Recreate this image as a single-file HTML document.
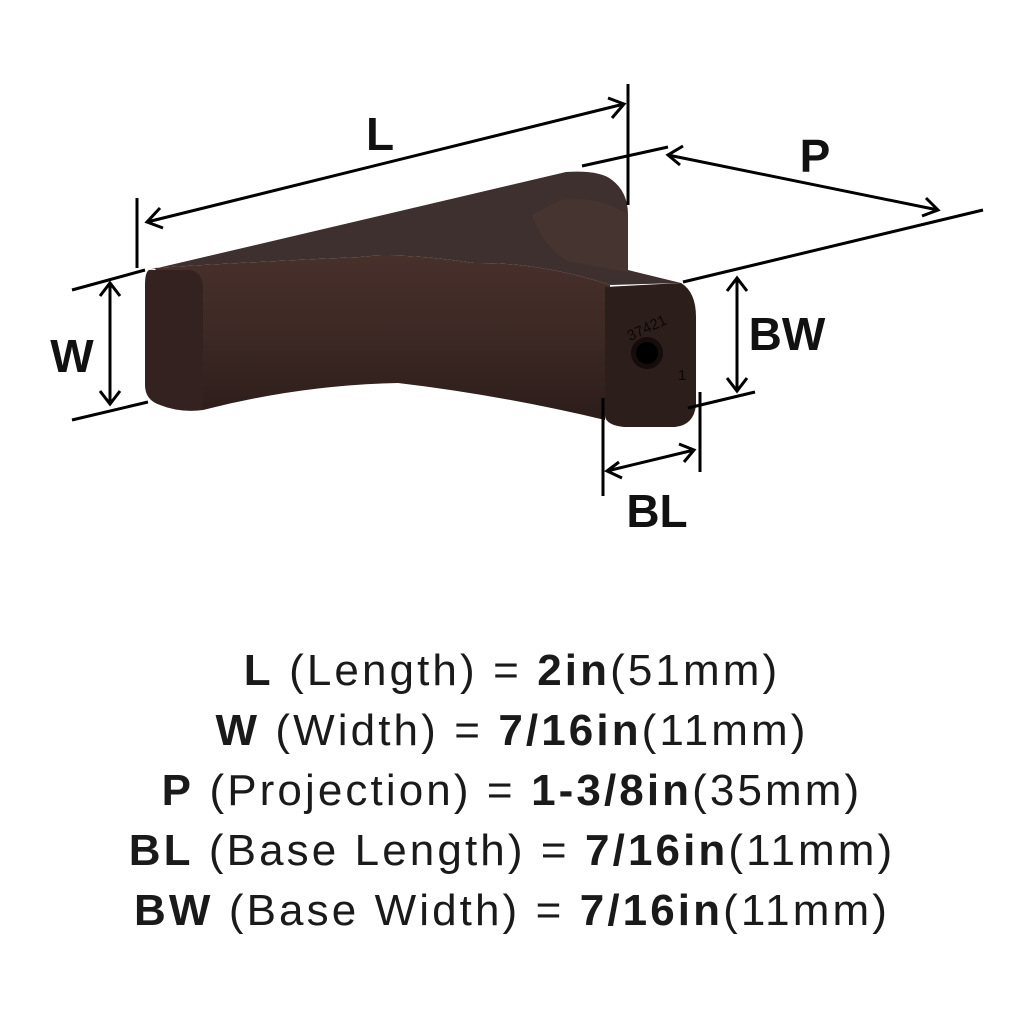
<!DOCTYPE html>
<html><head><style>
body{margin:0;width:1024px;height:1024px;background:#fff;overflow:hidden}
.t{position:absolute;left:0;width:1024px;text-align:center;font-family:"Liberation Sans",sans-serif;font-size:44px;line-height:50px;color:#1a1a1a;letter-spacing:3.1px}
b{font-weight:bold}
</style></head><body>
<svg width="1024" height="1024" style="position:absolute;left:0;top:0">
<defs>
<linearGradient id="fr" x1="0" y1="0" x2="0" y2="1">
<stop offset="0" stop-color="#48302b"/><stop offset="0.5" stop-color="#3c2824"/><stop offset="1" stop-color="#2c1d1a"/></linearGradient>
</defs>
<path d="M149,270 L566,172 Q600,170 612,180 Q628,192 628,215 L628,270 L681,283 L610,285 Q540,262 474,263 Q400,252 360,257 Q250,262 155,268 Z" fill="#3d302e"/>
<path d="M532,215 Q545,250 570,262 L628,272 L628,215 Q600,195 560,200 Z" fill="#45342f"/>
<path d="M155,268 Q250,262 360,257 Q400,252 474,263 Q540,262 610,285 L605,420 Q500,395 398,383 Q300,385 203,410 Z" fill="url(#fr)"/>
<path d="M149,270 L190,270 Q203,272 203,290 L203,410 Q180,413 160,405 Q145,400 145,385 L145,285 Q145,272 149,270 Z" fill="#33221f"/>
<path d="M605,287 L681,283 Q696,292 696,317 L696,405 Q694,425 675,427 L624,427 Q605,425 605,415 Z" fill="#2c1e1b"/>
<circle cx="647" cy="353" r="16" fill="#150c0b"/><circle cx="647" cy="353" r="11" fill="#000"/>
<text x="622" y="335" font-family="Liberation Sans" font-size="15" fill="#0d0706" transform="rotate(-25 640 320)">37421</text>
<text x="678" y="380" font-family="Liberation Sans" font-size="15" fill="#0d0706">1</text>
<g stroke="#000" stroke-width="3" fill="none">
<line x1="137" y1="198" x2="137" y2="268"/><line x1="628" y1="84" x2="628" y2="205"/>
<line x1="147" y1="222" x2="624" y2="104"/>
<polyline points="160,208 147,222 163,228"/><polyline points="608,98 624,104 612,118"/>
<line x1="582" y1="166" x2="668" y2="147"/><line x1="683" y1="282" x2="983" y2="210"/>
<line x1="668" y1="155" x2="938" y2="210"/>
<polyline points="683,146 668,155 680,165"/><polyline points="926,198 938,210 922,216"/>
<line x1="72" y1="290" x2="145" y2="270"/><line x1="72" y1="420" x2="148" y2="402"/>
<line x1="110" y1="283" x2="110" y2="404"/>
<polyline points="100,296 110,283 120,296"/><polyline points="100,391 110,404 120,391"/>
<line x1="737" y1="278" x2="737" y2="391"/>
<line x1="688" y1="408" x2="755" y2="392"/>
<polyline points="727,291 737,278 747,291"/><polyline points="727,378 737,391 747,378"/>
<line x1="603" y1="398" x2="603" y2="496"/><line x1="700" y1="392" x2="700" y2="472"/>
<line x1="607" y1="471" x2="694" y2="450"/>
<polyline points="619,462 607,471 622,478"/><polyline points="679,444 694,450 684,462"/>
</g>
<g font-family="Liberation Sans" font-weight="bold" font-size="46" fill="#111">
<text x="380" y="150" text-anchor="middle">L</text>
<text x="815" y="172" text-anchor="middle">P</text>
<text x="72" y="372" text-anchor="middle">W</text>
<text x="787" y="350" text-anchor="middle">BW</text>
<text x="657" y="527" text-anchor="middle">BL</text>
</g>
</svg>
<div class="t" style="top:646px"><b>L</b> (Length) = <b>2in</b>(51mm)</div>
<div class="t" style="top:706px"><b>W</b> (Width) = <b>7/16in</b>(11mm)</div>
<div class="t" style="top:766px"><b>P</b> (Projection) = <b>1-3/8in</b>(35mm)</div>
<div class="t" style="top:826px"><b>BL</b> (Base Length) = <b>7/16in</b>(11mm)</div>
<div class="t" style="top:886px"><b>BW</b> (Base Width) = <b>7/16in</b>(11mm)</div>
</body></html>
